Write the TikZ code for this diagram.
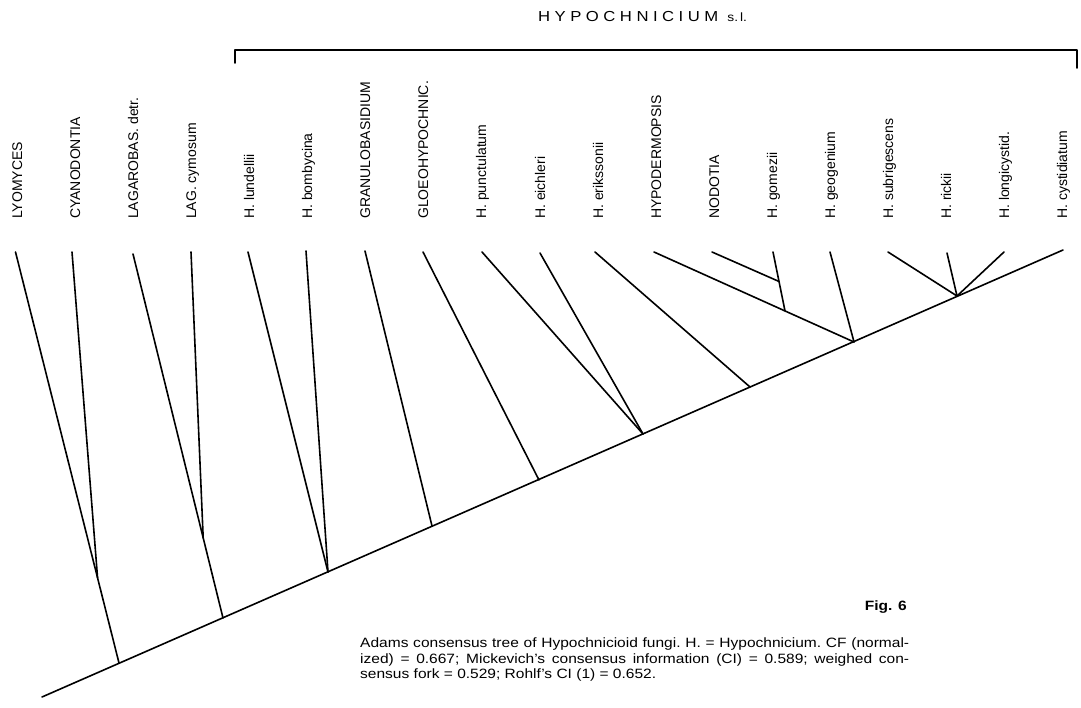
\documentclass[tikz,border=0pt]{standalone}
\usepackage{fontspec}
\setmainfont{Liberation Sans}
\newfontfamily\capfont[FakeStretch=1.15]{Liberation Sans}
\newfontfamily\titlefont[FakeStretch=1.15, LetterSpace=31]{Liberation Sans}
\usetikzlibrary{calc}

\begin{document}
\begin{tikzpicture}[x=1pt, y=-1pt,
    taxon/.style={rotate=90, anchor=base west, inner sep=0pt, font=\fontsize{14}{16}\selectfont},
    branch/.style={line width=1.6pt, line cap=round, line join=round}
]
\useasboundingbox (0,0) rectangle (1081,708);

\node[anchor=base west, inner sep=0pt, font=\titlefont\fontsize{14.5}{16}\selectfont] (title) at (538,21.5) {HYPOCHNICIUM {\capfont\fontsize{12}{14}\selectfont s.\,l.}};
\draw[branch] (235,63) -- (235,50) -- (1077,50) -- (1077,68);

\node[taxon] (lyomyces) at (22,219) {LYOMYCES};
\node[taxon] (cyano) at (80,219) {CYANODONTIA};
\node[taxon] (lagdetr) at (138,219) {LAGAROBAS. detr.};
\node[taxon] (lagcym) at (196,219) {LAG. cymosum};
\node[taxon] (lundellii) at (254,219) {H. lundellii};
\node[taxon] (bombycina) at (312,219) {H. bombycina};
\node[taxon] (granulo) at (370,219) {GRANULOBASIDIUM};
\node[taxon] (gloeo) at (428,219) {GLOEOHYPOCHNIC.};
\node[taxon] (punct) at (486,219) {H. punctulatum};
\node[taxon] (eichleri) at (545,219) {H. eichleri};
\node[taxon] (erikss) at (603,219) {H. erikssonii};
\node[taxon] (hypoderm) at (661,219) {HYPODERMOPSIS};
\node[taxon] (nodotia) at (719,219) {NODOTIA};
\node[taxon] (gomezii) at (777,219) {H. gomezii};
\node[taxon] (geogen) at (835,219) {H. geogenium};
\node[taxon] (subrig) at (893,219) {H. subrigescens};
\node[taxon] (rickii) at (951,219) {H. rickii};
\node[taxon] (longic) at (1009,219) {H. longicystid.};
\node[taxon] (cystid) at (1067,219) {H. cystidiatum};

\coordinate (t-lyomyces) at (15.5,252);
\coordinate (t-cyano) at (72,252);
\coordinate (t-lagdetr) at (133,254);
\coordinate (t-lagcym) at (191,252);
\coordinate (t-lundellii) at (248,252);
\coordinate (t-bombycina) at (306,251);
\coordinate (t-granulo) at (365,251);
\coordinate (t-gloeo) at (423,252);
\coordinate (t-punct) at (482,252);
\coordinate (t-eichleri) at (540,253);
\coordinate (t-erikss) at (595,252);
\coordinate (t-hypoderm) at (654,252);
\coordinate (t-nodotia) at (712,252);
\coordinate (t-gomezii) at (773,252);
\coordinate (t-geogen) at (830,252);
\coordinate (t-subrig) at (888,252);
\coordinate (t-rickii) at (947,253);
\coordinate (t-longic) at (1004,252);
\coordinate (t-cystid) at (1063,250);

\coordinate (root) at (42,697);
\coordinate (j1) at (119,663);
\coordinate (j2) at (223,618);
\coordinate (j3) at (328,572);
\coordinate (j4) at (432,526);
\coordinate (j5) at (539,480);
\coordinate (j6) at (643,434);
\coordinate (j7) at (750,387);
\coordinate (j8) at (854,342);
\coordinate (j9) at (957,296);
\coordinate (k1) at ($(t-lyomyces)!0.793!(j1)$);
\coordinate (k2) at ($(t-lagdetr)!0.78!(j2)$);
\coordinate (k3) at ($(t-hypoderm)!0.655!(j8)$);
\coordinate (k4) at ($(t-gomezii)!0.5!(k3)$);

\draw[branch] (root) -- (t-cystid);
\draw[branch] (t-lyomyces) -- (j1);
\draw[branch] (t-cyano) -- (k1);
\draw[branch] (t-lagdetr) -- (j2);
\draw[branch] (t-lagcym) -- (k2);
\draw[branch] (t-lundellii) -- (j3);
\draw[branch] (t-bombycina) -- (j3);
\draw[branch] (t-granulo) -- (j4);
\draw[branch] (t-gloeo) -- (j5);
\draw[branch] (t-punct) -- (j6);
\draw[branch] (t-eichleri) -- (j6);
\draw[branch] (t-erikss) -- (j7);
\draw[branch] (t-hypoderm) -- (j8);
\draw[branch] (t-gomezii) -- (k3);
\draw[branch] (t-nodotia) -- (k4);
\draw[branch] (t-geogen) -- (j8);
\draw[branch] (t-subrig) -- (j9);
\draw[branch] (t-rickii) -- (j9);
\draw[branch] (t-longic) -- (j9);

\node[anchor=east, inner sep=0pt, font=\capfont\bfseries\fontsize{13.5}{16}\selectfont] (fig) at (907,607) {Fig. 6};
\node[anchor=north west, inner sep=0pt, text width=549pt, align=justify, font=\capfont\fontsize{13.5}{15.5}\selectfont\frenchspacing] (caption) at (360,638) {Adams consensus tree of Hypochnicioid fungi. H. = Hypochnicium. CF (normal-\linebreak ized) = 0.667; Mickevich’s consensus information (CI) = 0.589; weighed con-\linebreak sensus fork = 0.529; Rohlf’s CI (1) = 0.652.};
\end{tikzpicture}
\end{document}
